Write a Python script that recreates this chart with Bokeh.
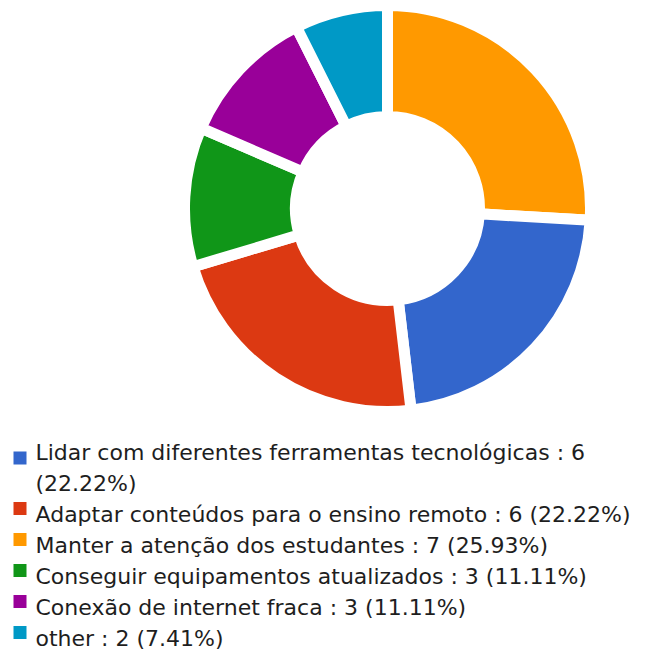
from bokeh.plotting import figure
from bokeh.models import Range1d, ColumnDataSource
from bokeh.core.properties import value
from bokeh.embed import file_html
from bokeh.resources import INLINE
import math

# ---- data ----
categories = [
    "Lidar com diferentes ferramentas tecnológicas",
    "Adaptar conteúdos para o ensino remoto",
    "Manter a atenção dos estudantes",
    "Conseguir equipamentos atualizados",
    "Conexão de internet fraca",
    "other",
]
counts = [6, 6, 7, 3, 3, 2]
colors = ["#3366CC", "#DC3912", "#FF9900", "#109618", "#990099", "#0099C6"]
# order in which slices are drawn clockwise from 12 o'clock
draw_order = [2, 0, 1, 3, 4, 5]

W, H = 669, 651
FONT = "DejaVu Sans"

p = figure(width=W, height=H, x_range=Range1d(0, W), y_range=Range1d(0, H),
           output_backend="svg", toolbar_location=None, min_border=0,
           x_axis_location=None, y_axis_location=None, tools="")
p.grid.visible = False
p.outline_line_color = None
p.background_fill_color = "white"
p.border_fill_color = "white"

total = sum(counts)

# ---- donut ----
cx, cy = 387, H - 208
starts, ends, cols = [], [], []
cum = 0
for i in draw_order:
    a0 = math.pi / 2 - cum / total * 2 * math.pi
    cum += counts[i]
    a1 = math.pi / 2 - cum / total * 2 * math.pi
    starts.append(a0)
    ends.append(a1)
    cols.append(colors[i])
src = ColumnDataSource(dict(x=[cx] * len(starts), y=[cy] * len(starts),
                            start=starts, end=ends, color=cols))
p.annular_wedge(x="x", y="y", inner_radius=92, outer_radius=203,
                start_angle="start", end_angle="end", direction="clock",
                fill_color="color", line_color="white", line_width=11, source=src)

# ---- legend ----
labels = [f"{c} : {n} ({n / total * 100:.2f}%)" for c, n in zip(categories, counts)]
max_chars = 52
tx, ty, tt = [], [], []
sqx, sqy, sqc = [], [], []
line_h = 31
base = 452  # y of first baseline (from top)
row = 0
for lab, col in zip(labels, colors):
    lines = [lab]
    if len(lab) > max_chars:
        cut = lab.rfind(" ", 0, max_chars)
        lines = [lab[:cut], lab[cut + 1:]]
    first = row
    for ln in lines:
        tx.append(35)
        ty.append(H - (base + row * line_h))
        tt.append(ln)
        row += 1
    mid = (first + row - 1) / 2
    sqx.append(19.5)
    sqy.append(H - (base + mid * line_h - 6 - (row - first - 1) * 4))
    sqc.append(col)

p.rect(x=sqx, y=sqy, width=13, height=13, fill_color=sqc, line_color=None)
p.text(x=tx, y=ty, text=tt, text_font=value(FONT), text_font_size="22px",
       text_color="#1e1e1e", text_baseline="alphabetic", text_align="left")

open("out.html", "w").write(file_html(p, INLINE))
